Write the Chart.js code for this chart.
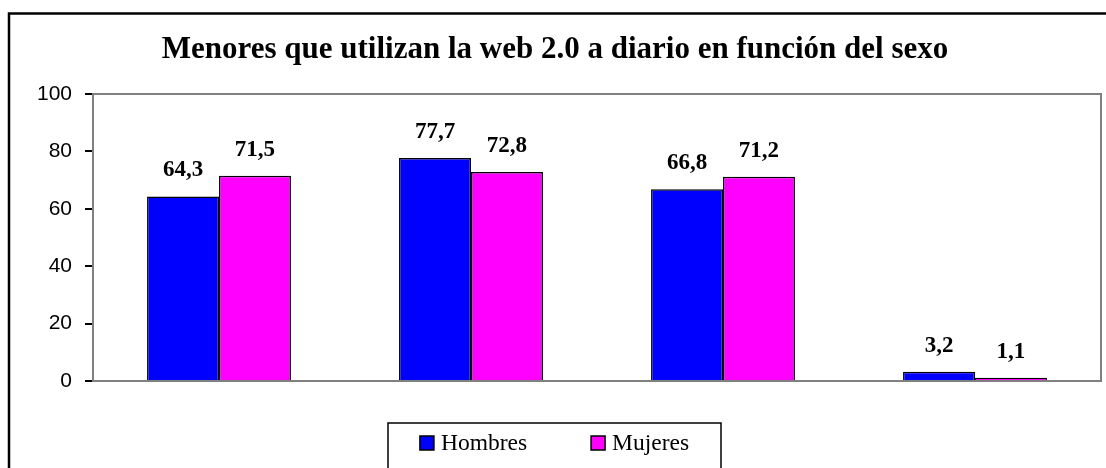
<!DOCTYPE html>
<html>
<head>
<meta charset="utf-8">
<script src="https://cdn.jsdelivr.net/npm/chart.js@4"></script>
<style>
  html, body { margin: 0; padding: 0; background: #fff; }
  #wrap { width: 1106px; height: 468px; }
</style>
</head>
<body>
<div id="wrap"><canvas id="myChart" width="1106" height="468"></canvas></div>
<script>
const categories = ["", "", "", ""];
const hombres = [64.3, 77.7, 66.8, 3.2];
const mujeres = [71.5, 72.8, 71.2, 1.1];
const yTicks = [0, 20, 40, 60, 80, 100];
const seriesNames = ["Hombres", "Mujeres"];
const seriesColors = ["#0000FF", "#FF00FF"];

const serif = "'Liberation Serif', 'Times New Roman', serif";

// outer frame + plot box
const framePlugin = {
  id: "frame",
  beforeDatasetsDraw(chart) {
    const { ctx, chartArea: a } = chart;
    ctx.save();
    ctx.strokeStyle = "#808080";
    ctx.lineWidth = 2;
    ctx.strokeRect(a.left, a.top, a.right - a.left, a.bottom - a.top);
    ctx.restore();
  },
  afterDraw(chart) {
    const ctx = chart.ctx;
    ctx.save();
    ctx.strokeStyle = "#000";
    ctx.lineWidth = 2.5;
    ctx.strokeRect(9, 13.5, chart.width + 20, chart.height + 20);
    ctx.restore();
  }
};

// value labels above bars
const valuePlugin = {
  id: "values",
  afterDatasetsDraw(chart) {
    const ctx = chart.ctx;
    ctx.save();
    ctx.font = "bold 23px " + serif;
    ctx.fillStyle = "#000";
    ctx.textAlign = "center";
    ctx.textBaseline = "alphabetic";
    chart.data.datasets.forEach((ds, i) => {
      chart.getDatasetMeta(i).data.forEach((bar, j) => {
        const txt = ds.data[j].toFixed(1).replace(".", ",");
        ctx.fillText(txt, bar.x, bar.y - 20);
      });
    });
    ctx.restore();
  }
};

// boxed legend at the bottom
const legendBoxPlugin = {
  id: "legendBox",
  afterDraw(chart) {
    const ctx = chart.ctx;
    const boxW = 333, boxH = 46, top = 423;
    const left = Math.round(chart.width / 2 - boxW / 2) + 1;
    ctx.save();
    ctx.strokeStyle = "#000";
    ctx.lineWidth = 1.5;
    ctx.strokeRect(left, top, boxW, boxH);
    ctx.font = "23.5px " + serif;
    const sq = 14, gapTxt = 7, gapItem = 64;
    const widths = chart.data.datasets.map(ds => sq + gapTxt + ctx.measureText(ds.label).width);
    const total = widths.reduce((s, w) => s + w, 0) + gapItem * (widths.length - 1);
    let x = left + boxW / 2 - total / 2;
    const cy = top + 20;
    chart.data.datasets.forEach((ds, i) => {
      ctx.fillStyle = ds.backgroundColor;
      ctx.fillRect(x, cy - sq / 2, sq, sq);
      ctx.lineWidth = 1.5;
      ctx.strokeRect(x, cy - sq / 2, sq, sq);
      ctx.fillStyle = "#000";
      ctx.textBaseline = "middle";
      ctx.fillText(ds.label, x + sq + gapTxt, cy + 1);
      x += widths[i] + gapItem;
    });
    ctx.restore();
  }
};

new Chart(document.getElementById("myChart"), {
  type: "bar",
  data: {
    labels: categories,
    datasets: [
      { label: seriesNames[0], data: hombres, backgroundColor: seriesColors[0], borderColor: "#000", borderWidth: 1.5 },
      { label: seriesNames[1], data: mujeres, backgroundColor: seriesColors[1], borderColor: "#000", borderWidth: 1.5 }
    ]
  },
  options: {
    responsive: false,
    animation: false,
    layout: { padding: { top: 20, left: 9, right: 5, bottom: 87 } },
    datasets: { bar: { categoryPercentage: 0.571, barPercentage: 1.0 } },
    plugins: {
      legend: { display: false },
      tooltip: { enabled: false },
      title: {
        display: true,
        text: "Menores que utilizan la web 2.0 a diario en función del sexo",
        color: "#000",
        font: { family: serif, size: 31, weight: "bold", lineHeight: 1.2 },
        padding: { top: 11, bottom: 25.8 }
      }
    },
    scales: {
      x: {
        grid: { display: false, drawTicks: false },
        border: { display: false },
        ticks: { display: false }
      },
      y: {
        min: 0,
        max: 100,
        afterBuildTicks(scale) { scale.ticks = yTicks.map(v => ({ value: v })); },
        afterFit(scale) { scale.width = 84; },
        grid: { drawOnChartArea: false, tickLength: 8, tickColor: "#000", lineWidth: 2 },
        border: { color: "#000", width: 2 },
        ticks: { color: "#000", padding: 13, font: { family: "'Liberation Sans', Arial, sans-serif", size: 21 } }
      }
    }
  },
  plugins: [framePlugin, valuePlugin, legendBoxPlugin]
});
</script>
</body>
</html>
